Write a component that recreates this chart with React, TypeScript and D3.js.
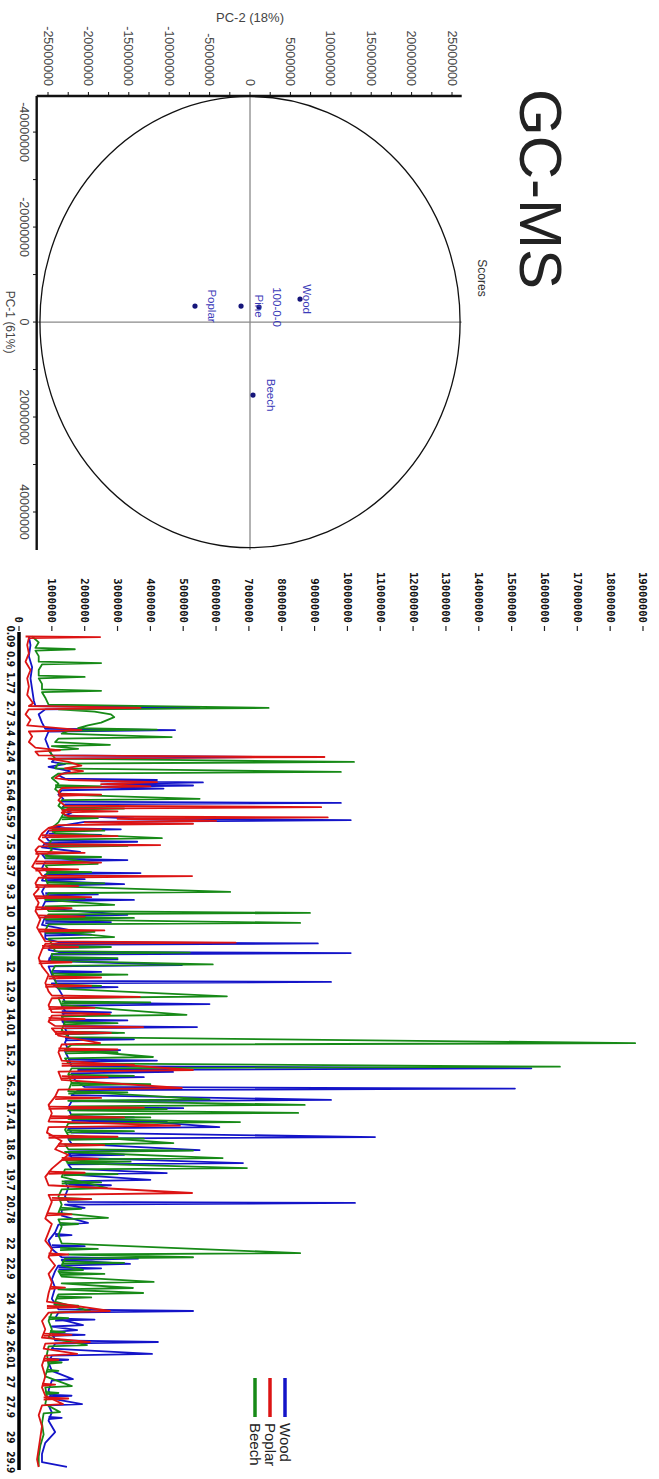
import React from 'react';
import * as d3 from 'd3';

const W = 659;
const H = 1479;

// ---------------- PCA scores ----------------
const pcaSamples = ['Wood', '100-0-0', 'Pine', 'Poplar', 'Beech'];
const pc1Scores = [-4.84e6, -3.16e6, -3.37e6, -3.37e6, 15.37e6];
const pc2Scores = [6.19e6, 1.11e6, -1.11e6, -6.81e6, 0.37e6];
const pc1MajorTicks = [-40e6, -20e6, 0, 20e6, 40e6];
const pc1MinorTicks = [-30e6, -10e6, 10e6, 30e6];
const pc2MajorTicks = [-25e6, -20e6, -15e6, -10e6, -5e6, 0, 5e6, 10e6, 15e6, 20e6, 25e6];
const pc2MinorTicks = [-22.5e6, -17.5e6, -12.5e6, -7.5e6, -2.5e6, 2.5e6, 7.5e6, 12.5e6, 17.5e6, 22.5e6];
const ellipseRadii = [47.5e6, 26.0e6]; // [PC-1, PC-2]

// ---------------- Chromatogram (time min, intensity in millions) ----------------
const seriesNames = ['Wood', 'Poplar', 'Beech'];
const seriesColors = ['#1414c8', '#dc1414', '#178a17'];

const woodTrace: [number, number][] = [
  [0.09,0.3],[0.4,0.35],[0.8,0.3],[1.2,0.4],[1.6,0.35],[2.0,0.4],[2.4,0.45],[2.6,0.5],[2.67,5.5],[2.72,0.8],[2.9,0.6],[3.2,0.7],[3.42,0.8],[3.47,4.75],[3.52,0.9],[3.8,0.8],[4.1,0.9],[4.38,1.0],[4.44,8.0],[4.5,1.1],[4.62,1.0],[4.7,1.4],[4.8,0.9],[4.95,1.55],[5.1,1.2],[5.22,1.4],[5.27,4.2],[5.32,2.5],[5.36,5.6],[5.42,3.0],[5.47,5.3],[5.52,2.2],[5.58,4.4],[5.64,1.3],[5.8,1.2],[5.95,1.35],[6.05,1.3],[6.10,9.8],[6.15,1.4],[6.3,1.3],[6.45,1.6],[6.55,1.4],[6.66,3.5],[6.72,10.1],[6.78,2.0],[6.9,1.4],[7.0,1.0],[7.05,3.1],[7.1,0.9],[7.3,0.8],[7.46,0.9],[7.5,3.6],[7.55,0.8],[7.7,0.7],[7.87,1.86],[7.95,0.7],[8.1,0.8],[8.16,3.3],[8.22,0.8],[8.45,0.7],[8.6,0.9],[8.63,3.7],[8.68,0.8],[8.9,0.7],[9.03,3.2],[9.08,0.8],[9.3,0.7],[9.55,0.8],[9.6,3.5],[9.65,0.8],[9.9,0.7],[10.14,3.3],[10.2,0.8],[10.5,0.7],[10.69,1.55],[10.75,0.8],[11.0,0.8],[11.12,1.2],[11.17,9.1],[11.22,1.0],[11.4,0.9],[11.48,1.2],[11.52,10.1],[11.57,1.0],[11.8,0.9],[11.95,4.96],[12.0,0.9],[12.3,1.0],[12.52,1.1],[12.56,9.5],[12.61,1.0],[12.8,1.2],[13.0,1.3],[13.3,1.4],[13.36,5.8],[13.42,1.3],[13.6,1.4],[13.9,1.3],[14.15,1.4],[14.19,5.42],[14.24,1.4],[14.5,1.5],[14.75,1.4],[15.0,1.5],[15.02,3.08],[15.07,1.4],[15.3,1.5],[15.6,1.6],[15.68,15.6],[15.74,1.8],[15.81,4.69],[15.86,1.6],[16.1,1.7],[16.35,2.0],[16.41,15.1],[16.47,1.8],[16.65,1.6],[16.82,9.5],[16.87,1.6],[17.1,1.5],[17.4,1.6],[17.8,6.1],[17.85,1.5],[18.0,1.6],[18.16,10.84],[18.22,1.5],[18.4,1.6],[18.63,5.5],[18.68,1.5],[18.9,1.6],[19.1,6.82],[19.15,1.5],[19.3,1.6],[19.46,4.5],[19.5,1.4],[19.71,4.0],[19.76,1.4],[20.0,1.5],[20.3,1.4],[20.5,1.5],[20.54,10.23],[20.6,1.4],[20.72,2.0],[20.78,1.3],[21.0,1.3],[21.26,2.1],[21.32,1.2],[21.6,1.1],[21.9,0.9],[22.2,1.0],[22.5,1.3],[22.55,3.62],[22.6,1.3],[22.74,3.38],[22.8,1.2],[23.0,1.1],[23.3,1.0],[23.6,1.1],[24.0,1.0],[24.38,1.2],[24.44,5.3],[24.5,1.2],[24.7,1.1],[24.95,1.95],[25.0,1.0],[25.13,1.77],[25.2,1.0],[25.5,1.1],[25.56,4.23],[25.62,1.1],[25.8,1.0],[25.99,4.05],[26.05,1.0],[26.3,0.9],[26.6,1.0],[26.9,1.64],[26.95,1.0],[27.3,0.9],[27.6,1.0],[27.8,1.92],[27.85,0.9],[28.1,1.0],[28.4,0.9],[28.81,1.1],[29.2,0.8],[29.6,0.7],[29.9,0.7],[30.07,1.46]
];

const poplarTrace: [number, number][] = [
  [0.09,0.2],[0.11,2.47],[0.15,0.3],[0.4,0.25],[0.7,0.3],[1.0,0.2],[1.3,0.35],[1.6,0.25],[1.9,0.3],[2.2,0.25],[2.5,0.43],[2.6,0.3],[2.67,3.7],[2.72,0.3],[2.9,0.2],[3.1,0.35],[3.3,0.25],[3.47,1.9],[3.52,0.3],[3.7,0.4],[3.9,0.3],[4.1,0.5],[4.2,1.25],[4.25,0.5],[4.38,0.6],[4.44,9.3],[4.5,0.9],[4.62,1.5],[4.75,1.9],[4.85,1.4],[4.95,1.95],[5.05,1.3],[5.2,1.1],[5.27,1.5],[5.35,4.2],[5.42,2.5],[5.5,4.0],[5.56,1.3],[5.7,1.2],[5.85,1.3],[6.0,1.2],[6.2,1.4],[6.25,9.2],[6.3,1.5],[6.45,1.3],[6.58,1.5],[6.62,9.4],[6.67,3.0],[6.75,6.0],[6.8,2.0],[6.85,5.3],[6.9,1.2],[7.0,0.9],[7.2,0.7],[7.4,0.6],[7.58,0.8],[7.62,4.3],[7.67,0.6],[7.8,0.5],[8.0,0.6],[8.2,0.5],[8.4,0.4],[8.55,0.6],[8.72,0.7],[8.74,5.27],[8.8,0.6],[9.0,0.5],[9.2,0.6],[9.4,0.45],[9.7,0.6],[10.0,0.5],[10.3,0.65],[10.6,0.55],[10.9,0.7],[11.1,0.8],[11.14,6.6],[11.19,0.8],[11.4,0.7],[11.7,0.6],[12.0,0.7],[12.3,0.9],[12.6,0.8],[12.9,0.9],[13.05,1.0],[13.1,3.68],[13.15,1.0],[13.4,0.9],[13.65,1.0],[13.72,2.77],[13.78,1.0],[14.0,0.9],[14.15,1.1],[14.19,3.78],[14.24,1.0],[14.5,1.2],[14.77,2.47],[14.82,1.3],[15.1,1.2],[15.4,1.3],[15.74,5.3],[15.8,1.2],[16.1,1.3],[16.39,4.96],[16.45,1.2],[16.7,1.1],[17.0,0.9],[17.3,1.0],[17.6,0.9],[17.75,4.9],[17.8,0.9],[18.0,0.85],[18.3,1.3],[18.6,1.1],[18.8,1.5],[19.0,1.3],[19.3,1.0],[19.6,0.8],[19.9,0.9],[20.18,5.27],[20.25,0.9],[20.5,1.0],[20.8,0.9],[21.1,0.8],[21.3,1.0],[21.6,0.9],[21.9,0.8],[22.2,1.0],[22.5,0.9],[22.8,1.1],[23.1,0.9],[23.4,1.0],[23.8,0.9],[24.1,0.85],[24.44,2.77],[24.5,0.9],[24.8,0.7],[25.1,0.8],[25.4,0.7],[25.56,2.16],[25.62,0.8],[25.8,0.75],[25.99,1.77],[26.05,0.8],[26.4,0.7],[26.8,0.8],[27.2,0.7],[27.5,0.8],[27.8,1.34],[27.85,0.7],[28.2,0.6],[28.6,0.7],[29.0,0.65],[29.4,0.6],[29.8,0.55],[30.07,0.6]
];

const beechTrace: [number, number][] = [
  [0.09,0.4],[0.3,0.6],[0.5,0.5],[0.55,1.7],[0.6,0.5],[0.8,0.6],[1.0,0.6],[1.05,2.5],[1.1,0.7],[1.3,0.6],[1.5,0.6],[1.55,2.0],[1.6,0.6],[1.8,0.7],[2.0,0.7],[2.05,2.5],[2.1,0.7],[2.3,0.8],[2.55,0.9],[2.67,7.6],[2.72,1.2],[2.8,2.3],[2.9,2.8],[3.0,2.9],[3.1,2.7],[3.2,2.5],[3.3,2.1],[3.4,1.8],[3.45,4.2],[3.5,1.5],[3.6,1.3],[3.72,4.65],[3.78,1.2],[3.9,1.1],[4.0,2.77],[4.05,1.0],[4.15,1.8],[4.2,0.9],[4.35,1.0],[4.5,1.1],[4.62,10.2],[4.68,1.2],[4.85,1.1],[4.98,9.8],[5.04,1.2],[5.2,1.0],[5.4,1.2],[5.6,1.1],[5.8,1.3],[5.95,5.5],[6.0,1.3],[6.2,1.2],[6.4,1.4],[6.6,1.3],[6.8,1.2],[7.0,1.0],[7.2,1.1],[7.37,4.35],[7.42,1.0],[7.6,0.9],[7.8,1.0],[8.0,0.8],[8.3,2.4],[8.35,0.8],[8.5,0.9],[8.8,0.8],[9.1,0.9],[9.31,6.43],[9.36,0.9],[9.6,0.8],[9.78,2.9],[9.83,0.8],[10.0,0.9],[10.07,8.86],[10.12,0.9],[10.3,0.8],[10.43,8.56],[10.48,0.9],[10.7,0.8],[10.94,2.9],[11.0,0.9],[11.2,1.0],[11.45,1.1],[11.5,5.2],[11.55,1.0],[11.8,1.0],[11.93,5.9],[11.98,1.1],[12.2,1.0],[12.5,1.1],[12.8,1.2],[13.08,6.33],[13.14,1.2],[13.4,1.3],[13.75,5.1],[13.8,1.3],[14.0,1.4],[14.3,1.3],[14.55,1.5],[14.77,18.76],[14.83,1.6],[15.0,1.4],[15.27,4.08],[15.32,1.4],[15.5,1.5],[15.62,16.47],[15.68,1.6],[15.9,1.5],[16.2,1.6],[16.5,1.5],[16.8,5.8],[16.85,1.5],[17.0,8.7],[17.05,1.6],[17.2,1.5],[17.29,8.5],[17.34,1.6],[17.5,1.5],[17.62,6.73],[17.67,1.5],[17.9,1.4],[18.1,1.5],[18.38,4.7],[18.43,1.4],[18.6,1.5],[18.65,5.3],[18.7,1.4],[18.92,6.2],[18.97,1.4],[19.1,1.5],[19.28,6.94],[19.33,1.4],[19.6,1.3],[20.0,2.68],[20.05,1.3],[20.3,1.2],[20.6,1.3],[20.9,1.2],[21.08,2.71],[21.13,1.2],[21.4,1.3],[21.7,1.2],[22.0,1.3],[22.35,8.56],[22.4,1.5],[22.5,5.3],[22.55,1.4],[22.8,1.3],[22.96,1.95],[23.0,1.2],[23.2,1.3],[23.39,4.1],[23.44,1.3],[23.61,3.47],[23.66,1.2],[23.79,3.78],[23.84,1.2],[24.1,1.1],[24.44,2.16],[24.5,1.0],[24.8,0.9],[25.1,1.0],[25.4,0.9],[25.67,2.07],[25.72,0.9],[26.0,0.85],[26.4,0.9],[26.8,0.8],[27.15,1.61],[27.2,0.8],[27.5,0.85],[27.8,0.8],[28.09,1.25],[28.14,0.75],[28.5,0.7],[28.9,0.75],[29.3,0.65],[29.7,0.6],[30.05,0.6]
];

// smaller peaks: [time, local baseline, apex]
const woodMinorPeaks: [number, number, number][] = [
  [7.25,0.9,2.5],[7.62,0.8,2.2],[8.85,0.8,2.0],[9.4,0.8,2.4],[10.4,0.8,2.8],[10.85,0.8,2.2],[11.3,0.9,2.6],[11.75,0.9,3.0],[12.2,1.0,2.5],[12.75,1.2,3.0],[13.66,1.3,2.8],[13.95,1.3,3.3],[14.4,1.4,3.0],[14.63,1.4,3.5],[15.4,1.5,4.2],[16.0,1.6,3.8],[17.12,1.5,5.0],[17.45,1.6,3.5],[17.6,1.6,4.5],[18.8,1.5,3.2],[19.9,1.5,2.8],[21.7,1.1,1.6],[22.1,1.0,2.0],[22.9,1.2,2.5],[24.75,1.1,2.3],[25.3,1.0,2.0],[26.2,0.9,1.5],[27.5,0.9,1.6],[28.3,0.9,1.3]
];
const poplarMinorPeaks: [number, number, number][] = [
  [5.8,1.2,2.5],[6.4,1.3,3.0],[7.05,0.9,2.5],[7.3,0.7,3.0],[7.9,0.5,2.0],[8.25,0.5,2.5],[8.5,0.5,1.8],[9.1,0.5,1.8],[9.5,0.5,2.2],[9.9,0.5,1.6],[10.2,0.6,2.0],[10.7,0.6,2.6],[11.3,0.7,1.8],[11.85,0.6,1.6],[12.4,0.9,2.5],[12.7,0.8,2.2],[13.5,0.9,2.3],[13.9,0.9,2.0],[14.4,1.1,2.8],[15.0,1.2,3.0],[15.55,1.3,3.5],[16.0,1.3,2.7],[16.75,1.1,2.5],[17.1,0.9,3.8],[17.45,0.95,3.2],[18.15,0.9,3.0],[18.45,1.2,2.6],[18.95,1.3,2.4],[19.45,0.9,2.0],[20.4,1.0,2.2],[20.95,0.85,1.6],[22.4,0.9,1.5],[23.6,0.95,1.4],[24.3,0.85,1.8],[25.3,0.75,1.6],[26.2,0.75,1.2],[27.1,0.7,1.1],[27.6,0.75,1.5]
];
const beechMinorPeaks: [number, number, number][] = [
  [5.5,1.1,2.5],[6.3,1.3,3.2],[6.65,1.3,2.4],[7.1,1.0,2.6],[7.65,0.9,3.3],[8.05,0.8,2.5],[8.6,0.85,2.2],[9.0,0.85,2.6],[9.55,0.8,2.0],[10.25,0.85,3.5],[10.75,0.8,2.3],[11.3,0.95,2.8],[11.7,1.0,3.0],[12.3,1.0,3.3],[12.7,1.15,2.5],[13.3,1.3,4.0],[14.05,1.4,3.0],[14.4,1.35,3.2],[15.1,1.4,3.0],[15.95,1.5,3.5],[16.25,1.6,4.0],[16.55,1.5,3.3],[17.15,1.55,4.5],[17.45,1.5,4.0],[17.95,1.45,3.5],[18.22,1.5,3.8],[19.05,1.45,3.4],[19.5,1.35,3.0],[19.8,1.3,2.5],[20.4,1.25,2.2],[20.75,1.25,1.9],[21.3,1.25,1.8],[22.2,1.25,2.4],[22.7,1.3,3.2],[23.1,1.25,2.6],[23.95,1.15,2.2],[24.25,1.05,1.8],[24.7,0.9,1.5],[25.2,0.95,1.4],[26.3,0.9,1.3],[26.6,0.85,1.2],[27.4,0.8,1.2]
];

const timeTickLabels = ['0.09','0.9','1.77','2.7','3.4','4.24','5','5.64','6.59','7.5','8.37','9.3','10','10.9','12','12.9','14.01','15.2','16.3','17.41','18.6','19.7','20.78','22','22.9','24','24.9','26.01','27','27.9','29','29.9'];
const intensityTicks = [0,1000000,2000000,3000000,4000000,5000000,6000000,7000000,8000000,9000000,10000000,11000000,12000000,13000000,14000000,15000000,16000000,17000000,18000000,19000000];

export default function App() {
  // Everything is laid out in the chart's own (landscape) frame and rotated 90° clockwise.
  const pc1 = d3.scaleLinear().domain([-47.6e6, 48e6]).range([96, 550]);
  const pc2 = d3.scaleLinear().domain([-26.4e6, 26.2e6]).range([622.3, 197.3]);
  const tScale = d3.scaleLinear().domain([0, 30]).range([634, 1465]);
  const iScale = d3.scaleLinear().domain([0, 19]).range([640, 16]);

  const line = d3.line<[number, number]>().x(d => tScale(d[0])).y(d => iScale(d[1]));
  const traces = [woodTrace, poplarTrace, beechTrace];
  const minor = [woodMinorPeaks, poplarMinorPeaks, beechMinorPeaks];
  const drawOrder = [0, 2, 1];
  const spikePath = (p: [number, number, number]) =>
    line([[p[0] - 0.04, p[1]], [p[0], p[2]], [p[0] + 0.04, p[1]]]) || '';

  const labelLift: Record<string, number> = { Wood: 3, '100-0-0': 14, Pine: 14, Poplar: 13, Beech: 14 };

  const sans = 'Liberation Sans, Arial, Helvetica, sans-serif';
  const cx = pc1(0), cy = pc2(0);
  const rx = pc1(ellipseRadii[0]) - cx;
  const ry = cy - pc2(ellipseRadii[1]);

  return (
    <svg width={W} height={H} viewBox={`0 0 ${W} ${H}`} style={{ position: 'absolute', left: 0, top: 0, background: '#fff' }}>
      <rect x={0} y={0} width={W} height={H} fill="#fff" />
      <g transform={`translate(${W},0) rotate(90)`}>
        {/* ---------- PCA ---------- */}
        <text x={189} y={139} textAnchor="middle" fontFamily={sans} fontSize={60} fill="#222">GC-MS</text>
        <text x={278} y={181} textAnchor="middle" fontFamily={sans} fontSize={12} fill="#333">Scores</text>

        <line x1={pc1.range()[0]} x2={pc1.range()[1]} y1={cy} y2={cy} stroke="#8a8a8a" strokeWidth={1.3} />
        <line x1={cx} x2={cx} y1={pc2.range()[0]} y2={pc2.range()[1]} stroke="#8a8a8a" strokeWidth={1.3} />
        <ellipse cx={cx} cy={cy} rx={rx} ry={ry} fill="none" stroke="#111" strokeWidth={1.3} />

        <line x1={96} x2={550} y1={622.3} y2={622.3} stroke="#111" strokeWidth={2.4} />
        {pc1MajorTicks.concat(pc1MinorTicks).map((v, i) => (
          <line key={'p1t' + i} x1={pc1(v)} x2={pc1(v)} y1={622} y2={626} stroke="#111" strokeWidth={1} />
        ))}
        {pc1MajorTicks.map((v, i) => (
          <text key={'p1l' + i} x={pc1(v)} y={639} textAnchor="middle" fontFamily={sans} fontSize={12.5} fill="#444">{String(v)}</text>
        ))}
        <text x={pc1(0)} y={653} textAnchor="middle" fontFamily={sans} fontSize={12} fill="#444">PC-1 (61%)</text>

        <line x1={96} x2={96} y1={622.3} y2={197.3} stroke="#111" strokeWidth={2.4} />
        {pc2MajorTicks.concat(pc2MinorTicks).map((v, i) => (
          <line key={'p2t' + i} x1={92} x2={96} y1={pc2(v)} y2={pc2(v)} stroke="#111" strokeWidth={1} />
        ))}
        {pc2MajorTicks.map((v, i) => (
          <text key={'p2l' + i} x={86} y={pc2(v) + 4.5} textAnchor="end" fontFamily={sans} fontSize={12.5} fill="#444">{String(v)}</text>
        ))}
        <text transform={`translate(22,${pc2(0)}) rotate(-90)`} textAnchor="middle" fontFamily={sans} fontSize={13} fill="#444">PC-2 (18%)</text>

        {pcaSamples.map((s, i) => (
          <g key={'pt' + i}>
            <circle cx={pc1(pc1Scores[i])} cy={pc2(pc2Scores[i])} r={2.6} fill="#15157a" />
            <text x={pc1(pc1Scores[i])} y={pc2(pc2Scores[i]) - labelLift[s]} textAnchor="middle" fontFamily={sans} fontSize={11.5} fill="#3a3ab8">{s}</text>
          </g>
        ))}

        {/* ---------- Chromatogram ---------- */}
        {intensityTicks.map((v, i) => (
          <g key={'it' + i}>
            <text x={623} y={iScale(v / 1e6) + 3.6} textAnchor="end" fontFamily="DejaVu Sans Mono, Liberation Mono, monospace" fontWeight="bold" fontSize={10.6} fill="#111">{String(v)}</text>
            <line x1={626} x2={631} y1={iScale(v / 1e6)} y2={iScale(v / 1e6)} stroke="#222" strokeWidth={1.2} />
          </g>
        ))}

        {drawOrder.map(k => (
          <g key={'tr' + k}>
            <path d={line(traces[k]) || ''} fill="none" stroke={seriesColors[k]} strokeWidth={1.8} strokeLinejoin="round" />
            {minor[k].map((p, j) => (
              <path key={j} d={spikePath(p)} fill="none" stroke={seriesColors[k]} strokeWidth={1.8} strokeLinejoin="round" />
            ))}
          </g>
        ))}

        <line x1={632} x2={1470} y1={640} y2={640} stroke="#000" strokeWidth={3.5} />
        {timeTickLabels.map((s, i) => (
          <text key={'tl' + i} x={tScale(+s)} y={652} textAnchor="middle" fontFamily="Liberation Sans Narrow, DejaVu Sans Condensed, sans-serif" fontWeight="bold" fontSize={10} fill="#111">{s}</text>
        ))}

        {seriesNames.map((s, i) => (
          <g key={'lg' + i}>
            <line x1={1378} x2={1417} y1={374 + i * 15} y2={374 + i * 15} stroke={seriesColors[i]} strokeWidth={3.5} />
            <text x={1423} y={374 + i * 15 + 5} fontFamily={sans} fontSize={15} fill="#222">{s}</text>
          </g>
        ))}
      </g>
    </svg>
  );
}
